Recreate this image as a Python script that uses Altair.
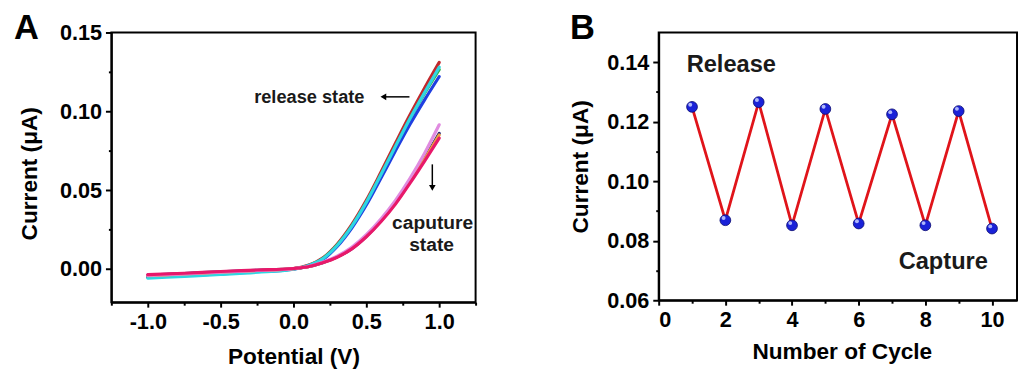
import altair as alt
import pandas as pd

FONT = "Liberation Sans"

# ---------------- Panel A : I-V curves ----------------
potential = [-1.0, -0.75, -0.5, -0.25, 0.0, 0.1, 0.2, 0.3, 0.4, 0.5, 0.6, 0.7, 0.8, 0.9, 1.0]

release_red = [-0.0040, -0.0030, -0.0020, -0.0010, 0.0003, 0.0024, 0.0070, 0.0158, 0.0282, 0.0436, 0.0614, 0.0798, 0.0978, 0.1148, 0.1310]
release_green = [-0.0048, -0.0037, -0.0026, -0.0014, 0.0001, 0.0022, 0.0066, 0.0152, 0.0273, 0.0424, 0.0598, 0.0778, 0.0953, 0.1115, 0.1265]
release_blue = [-0.0052, -0.0041, -0.0030, -0.0017, 0.0000, 0.0020, 0.0060, 0.0143, 0.0260, 0.0406, 0.0576, 0.0750, 0.0918, 0.1073, 0.1220]
release_cyan = [-0.0058, -0.0046, -0.0034, -0.0020, 0.0000, 0.0022, 0.0065, 0.0150, 0.0271, 0.0423, 0.0598, 0.0778, 0.0955, 0.1120, 0.1280]

capture_navy = [-0.0038, -0.0028, -0.0017, -0.0007, 0.0004, 0.0015, 0.0040, 0.0077, 0.0130, 0.0208, 0.0305, 0.0420, 0.0555, 0.0702, 0.0860]
capture_orange = [-0.0042, -0.0031, -0.0020, -0.0009, 0.0003, 0.0015, 0.0041, 0.0078, 0.0132, 0.0210, 0.0306, 0.0420, 0.0553, 0.0697, 0.0850]
capture_violet = [-0.0040, -0.0030, -0.0019, -0.0009, 0.0003, 0.0016, 0.0043, 0.0082, 0.0138, 0.0218, 0.0318, 0.0436, 0.0576, 0.0735, 0.0915]
capture_crimson = [-0.0035, -0.0026, -0.0015, -0.0006, 0.0004, 0.0015, 0.0040, 0.0075, 0.0128, 0.0205, 0.0300, 0.0412, 0.0545, 0.0685, 0.0830]

curve_names = ["release_red", "release_green", "release_blue", "release_cyan",
               "capture_navy", "capture_orange", "capture_violet", "capture_crimson"]
curve_values = [release_red, release_green, release_blue, release_cyan,
                capture_navy, capture_orange, capture_violet, capture_crimson]
curve_colors = ["#c0282d", "#2db34a", "#1f3fe0", "#2fd6e2",
                "#23236e", "#f0a040", "#e08ce0", "#e8186a"]

xA_ticks = [-1.0, -0.5, 0.0, 0.5, 1.0]
xA_minor = [-1.25, -0.75, -0.25, 0.25, 0.75, 1.25]
yA_ticks = [0.0, 0.05, 0.10, 0.15]
yA_minor = [0.025, 0.075, 0.125]

annA_text = ["release state", "caputure", "state"]
annA_x = [-0.27, 0.955, 0.948]
annA_y = [0.1092, 0.0290, 0.0150]

# ---------------- Panel B : cycling ----------------
cycle = [1, 2, 3, 4, 5, 6, 7, 8, 9, 10]
cycle_current = [0.1250, 0.0869, 0.1266, 0.0852, 0.1243, 0.0858, 0.1225, 0.0852, 0.1236, 0.0841]
xB_ticks = [0, 2, 4, 6, 8, 10]
xB_minor = [1, 3, 5, 7, 9]
yB_ticks = [0.06, 0.08, 0.10, 0.12, 0.14]
yB_minor = [0.07, 0.09, 0.11, 0.13]
annB_text = ["Release", "Capture"]
annB_x = [0.84, 7.2]
annB_y = [0.1389, 0.0729]

# ---------------- build tables ----------------
rows = []
for name, vals in zip(curve_names, curve_values):
    for xv, yv in zip(potential, vals):
        rows.append({"curve": name, "potential": xv, "current": yv})
dfA = pd.DataFrame(rows)
annA = pd.DataFrame({"x": annA_x, "y": annA_y, "text": annA_text})
arrowA_h = pd.DataFrame({"x": [0.796], "x2": [0.625], "y": [0.1092]})
arrowA_h_head = pd.DataFrame({"x": [0.617], "y": [0.1092]})
arrowA_v = pd.DataFrame({"x": [0.953], "y": [0.0664], "y2": [0.0525]})
arrowA_v_head = pd.DataFrame({"x": [0.953], "y": [0.0515]})

dfB = pd.DataFrame({"cycle": cycle, "current": cycle_current})
annB = pd.DataFrame({"x": annB_x, "y": annB_y, "text": annB_text})

xsA = alt.Scale(domain=[-1.25, 1.25], nice=False, zero=False)
ysA = alt.Scale(domain=[-0.021, 0.15], nice=False, zero=False)
xsB = alt.Scale(domain=[0, 10.75], nice=False, zero=False)
ysB = alt.Scale(domain=[0.06, 0.15], nice=False, zero=False)

LBL = 22
TTL = 23

minus_fix = "replace(format(datum.value, '.1f'), '\u2212', '-')"

axA_x = alt.Axis(values=xA_ticks, labelExpr=minus_fix, title="Potential (V)", orient="bottom",
                 tickSize=5, labelPadding=5, titlePadding=13)
axA_y = alt.Axis(values=yA_ticks, format=".2f", title="Current (\u03bcA)", orient="left",
                 tickSize=6, labelPadding=4, titlePadding=18, titleY=143)
axA_xm = alt.Axis(values=xA_minor, labels=False, domain=False, title=None, orient="bottom", tickSize=3)
axA_ym = alt.Axis(values=yA_minor, labels=False, domain=False, title=None, orient="left", tickSize=3)


def letter(t, dx):
    return alt.Chart(pd.DataFrame({"t": [t]})).mark_text(
        font=FONT, fontSize=35, fontWeight="bold", color="black", align="left", baseline="alphabetic"
    ).encode(text="t:N", x=alt.value(dx), y=alt.value(7))


layersA = []
for i, (name, col) in enumerate(zip(curve_names, curve_colors)):
    first = i == 0
    layersA.append(
        alt.Chart(dfA).transform_filter(alt.datum.curve == name)
        .mark_line(color=col, strokeWidth=3.2, interpolate="monotone", strokeCap="round")
        .encode(
            x=alt.X("potential:Q", scale=xsA, axis=axA_x if first else None),
            y=alt.Y("current:Q", scale=ysA, axis=axA_y if first else None),
        )
    )

minorA = alt.Chart(dfA).mark_line(opacity=0).encode(
    x=alt.X("potential:Q", scale=xsA, axis=axA_xm),
    y=alt.Y("current:Q", scale=ysA, axis=axA_ym),
)

textA_left = alt.Chart(annA.iloc[[0]]).mark_text(font=FONT, fontSize=18.5, fontWeight="bold",
                                                 color="#1a1a1a", baseline="middle", align="left").encode(
    x=alt.X("x:Q", scale=xsA, axis=None), y=alt.Y("y:Q", scale=ysA, axis=None), text="text:N")
textA_center = alt.Chart(annA.iloc[1:]).mark_text(font=FONT, fontSize=19.5, fontWeight="bold",
                                                  color="#1a1a1a", baseline="middle", align="center").encode(
    x=alt.X("x:Q", scale=xsA, axis=None), y=alt.Y("y:Q", scale=ysA, axis=None), text="text:N")

arrA1 = alt.Chart(arrowA_h).mark_rule(color="black", strokeWidth=1.5).encode(
    x=alt.X("x:Q", scale=xsA, axis=None), x2="x2:Q", y=alt.Y("y:Q", scale=ysA, axis=None))
arrA1h = alt.Chart(arrowA_h_head).mark_point(shape="triangle-left", filled=True, color="black",
                                             size=45, opacity=1).encode(
    x=alt.X("x:Q", scale=xsA, axis=None), y=alt.Y("y:Q", scale=ysA, axis=None))
arrA2 = alt.Chart(arrowA_v).mark_rule(color="black", strokeWidth=1.5).encode(
    x=alt.X("x:Q", scale=xsA, axis=None), y=alt.Y("y:Q", scale=ysA, axis=None), y2="y2:Q")
arrA2h = alt.Chart(arrowA_v_head).mark_point(shape="triangle-down", filled=True, color="black",
                                             size=45, opacity=1).encode(
    x=alt.X("x:Q", scale=xsA, axis=None), y=alt.Y("y:Q", scale=ysA, axis=None))

chartA = alt.layer(*layersA, minorA, textA_left, textA_center, arrA1, arrA1h, arrA2, arrA2h,
                   letter("A", -99)).resolve_axis(
    x="independent", y="independent"
).properties(width=370, height=274)

# ---------------- Panel B ----------------
axB_x = alt.Axis(values=xB_ticks, format="d", title="Number of Cycle", orient="bottom",
                 tickSize=5, labelPadding=5, titlePadding=10, titleX=186)
axB_y = alt.Axis(values=yB_ticks, format=".2f", title="Current (\u03bcA)", orient="left",
                 tickSize=6, labelPadding=4, titlePadding=14)
axB_xm = alt.Axis(values=xB_minor, labels=False, domain=False, title=None, orient="bottom", tickSize=3)
axB_ym = alt.Axis(values=yB_minor, labels=False, domain=False, title=None, orient="left", tickSize=3)

lineB = alt.Chart(dfB).mark_line(color="#e0141a", strokeWidth=2.8).encode(
    x=alt.X("cycle:Q", scale=xsB, axis=axB_x),
    y=alt.Y("current:Q", scale=ysB, axis=axB_y),
)
minorB = alt.Chart(dfB).mark_line(opacity=0).encode(
    x=alt.X("cycle:Q", scale=xsB, axis=axB_xm),
    y=alt.Y("current:Q", scale=ysB, axis=axB_ym),
)
ptsB = alt.Chart(dfB).mark_circle(color="#1a22d8", opacity=1, size=120, stroke="#0a0a70",
                                  strokeWidth=0.8).encode(
    x=alt.X("cycle:Q", scale=xsB, axis=None),
    y=alt.Y("current:Q", scale=ysB, axis=None),
)
hlB = alt.Chart(dfB).mark_circle(color="#c0c8ff", opacity=0.9, size=16, xOffset=-1.8, yOffset=-2.2).encode(
    x=alt.X("cycle:Q", scale=xsB, axis=None),
    y=alt.Y("current:Q", scale=ysB, axis=None),
)
textB = alt.Chart(annB).mark_text(font=FONT, fontSize=24, fontWeight="bold", color="#1a1a1a",
                                  align="left", baseline="middle").encode(
    x=alt.X("x:Q", scale=xsB, axis=None), y=alt.Y("y:Q", scale=ysB, axis=None), text="text:N")

chartB = alt.layer(lineB, minorB, ptsB, hlB, textB, letter("B", -90)).resolve_axis(
    x="independent", y="independent"
).properties(width=364, height=272)

chart = alt.hconcat(chartA, chartB, spacing=93).configure_view(
    stroke="black", strokeWidth=2
).configure_axis(
    domainColor="black", domainWidth=2, tickColor="black", tickWidth=2, grid=False,
    labelFont=FONT, labelFontSize=LBL, labelFontWeight="bold", labelColor="black",
    titleFont=FONT, titleFontSize=TTL, titleFontWeight="bold", titleColor="black",
).properties(padding={"left": 5, "top": 0, "right": 0, "bottom": 0})

chart.save("out.html", embed_options={"renderer": "svg", "actions": False})
